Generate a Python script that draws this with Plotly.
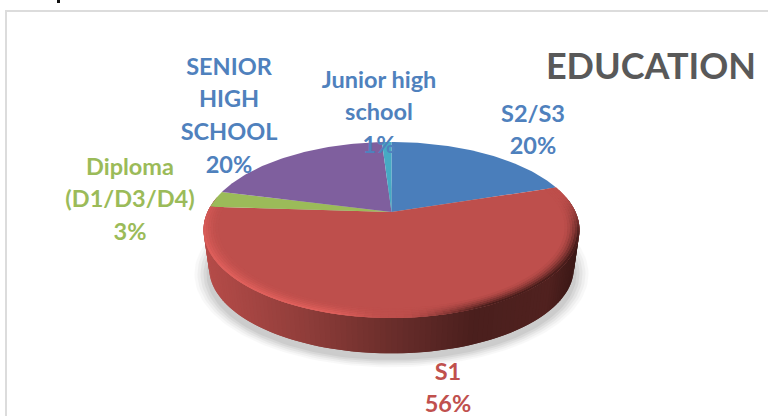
import numpy as np
import plotly.graph_objects as go

# Education breakdown (percent of respondents), clockwise from twelve o'clock
categories = ["S2/S3", "S1", "Diploma (D1/D3/D4)", "SENIOR HIGH SCHOOL", "Junior high school"]
values = [20, 56, 3, 20, 1]
slice_colors = ["#4a7ebb", "#be4f4c", "#9bbb59", "#7f5f9e", "#46aac4"]
label_colors = ["#4f81bd", "#c0504d", "#9bbb59", "#4f81bd", "#4f81bd"]
label_lines = [["S2/S3"], ["S1"], ["Diploma", "(D1/D3/D4)"], ["SENIOR", "HIGH", "SCHOOL"], ["Junior high", "school"]]
label_x = [533, 448, 130, 229, 379]
label_top = [116, 374, 169, 69, 82]
title_text = "EDUCATION"

# Pie projection, in page pixels
CX, CY, RX, RY = 391.5, 230.0, 188.0, 88.0
TILT = 0.2045
DEPTH = 38.0
BOTTOM_SCALE = 0.97
LINE_STEP = 32.6


def project(theta, radius=1.0, drop=0.0, scale=1.0):
    """Map a clockwise angle on the pie disc to page pixels with perspective."""
    u = radius * np.sin(theta)
    v = radius * np.cos(theta)
    den = 1 + TILT * v
    a = u * np.sqrt(1 - TILT ** 2) / den
    b = (v + TILT) / den
    return CX + RX * scale * a, CY - RY * scale * b + drop


def mix(c1, c2, t):
    t = float(np.clip(t, 0, 1))
    return "#%02x%02x%02x" % tuple(int(round(p + (q - p) * t)) for p, q in zip(c1, c2))


def smooth(a, b, x):
    t = np.clip((x - a) / (b - a), 0, 1)
    return t * t * (3 - 2 * t)


def wall_color(x):
    """Side wall shading: lit at the left, falling to deep maroon on the right."""
    t = (x - (CX - RX)) / (2 * RX)
    stops = [(0.0, (182, 76, 73)), (0.25, (146, 62, 59)), (0.5, (106, 45, 43)),
             (0.72, (74, 31, 29)), (0.92, (80, 33, 31)), (1.0, (58, 24, 22))]
    for (t0, c0), (t1, c1) in zip(stops, stops[1:]):
        if t <= t1:
            return mix(c0, c1, (t - t0) / (t1 - t0))
    return mix(stops[-1][1], stops[-1][1], 0)


fig = go.Figure()


def polygon(xs, ys, color, opacity=1.0):
    fig.add_trace(go.Scatter(
        x=list(xs), y=list(ys), mode="lines", fill="toself", fillcolor=color,
        opacity=opacity, hoverinfo="skip", showlegend=False,
        line=dict(color=color, width=0),
    ))


# Soft ground shadow under the pie
ring = np.linspace(0, 2 * np.pi, 181)
for grow, alpha in [(12, 0.07), (9, 0.10), (6, 0.14), (3, 0.18), (0, 0.24)]:
    sx = CX + (RX - 3 + grow) * np.cos(ring)
    sy = CY + DEPTH + 6 + (RY - 2 + grow * 0.6) * np.sin(ring)
    polygon(sx, sy, "#a8a8a8", opacity=alpha)

# Side wall: strips overlap their right-hand neighbour so no seams show
edges = np.linspace(np.pi / 2 - 0.18, 3 * np.pi / 2 + 0.18, 141)
for k in range(len(edges) - 1):
    t0 = edges[k]
    t1 = edges[min(k + 2, len(edges) - 1)]
    x0, y0 = project(t0)
    x1, y1 = project(t1)
    x2, y2 = project(t1, drop=DEPTH, scale=BOTTOM_SCALE)
    x3, y3 = project(t0, drop=DEPTH, scale=BOTTOM_SCALE)
    color = wall_color((x0 + project(edges[k + 1])[0]) / 2)
    polygon([x0, x1, x2, x3, x0], [y0, y1, y2, y3, y0], color)

# Top face slices, from the shares
bounds = np.cumsum([0] + values) / sum(values) * 2 * np.pi
for start, end, color in zip(bounds[:-1], bounds[1:], slice_colors):
    arc = np.linspace(start, end, max(int((end - start) * 60), 4))
    ax, ay = project(arc)
    ox, oy = project(0.0, radius=0.0)
    polygon(np.r_[ox, ax, ox], np.r_[oy, ay, oy], color)

# Soft bevel along the rim of the largest slice: light on the left, dark on the right
base = (190, 79, 76)
light = (224, 96, 92)
dark = (74, 30, 28)
rim_edges = np.linspace(bounds[1], bounds[2], 101)
rim_radii = np.linspace(1.0, 0.925, 7)
for j, (r_out, r_in) in enumerate(zip(rim_radii[:-1], rim_radii[1:])):
    falloff = (1 - j / 6) ** 1.6
    for k in range(len(rim_edges) - 1):
        t0 = rim_edges[k]
        t1 = rim_edges[min(k + 2, len(rim_edges) - 1)]
        mid = (rim_edges[k] + rim_edges[k + 1]) / 2
        side = (project(mid)[0] - (CX - RX)) / (2 * RX)
        if mid > np.pi:
            # Left half: strongest toward the lower left of the front
            lit = smooth(0.50, 0.68, 1 - side) * (0.45 + 0.55 * smooth(-0.3, 0.7, -np.cos(mid)))
            color = mix(base, light, lit * falloff)
        else:
            # Right half: darkening grows toward the right rim
            shade = smooth(0.52, 0.80, side) * smooth(np.radians(76), np.radians(112), mid)
            color = mix(base, dark, shade * falloff * 1.05)
        xa, ya = project(t0, radius=r_out)
        xb, yb = project(t1, radius=r_out)
        xc, yc = project(t1, radius=r_in)
        xd, yd = project(t0, radius=r_in)
        polygon([xa, xb, xc, xd, xa], [ya, yb, yc, yd, ya], color)

# Labels: each line is its own text point so the leading stays tight
for lines, value, x, top, color in zip(label_lines, values, label_x, label_top, label_colors):
    rows = lines + [f"{value}%"]
    fig.add_trace(go.Scatter(
        x=[x] * len(rows), y=[top + i * LINE_STEP for i in range(len(rows))],
        text=[f"<b>{row}</b>" for row in rows], mode="text", textposition="middle center",
        textfont=dict(family="Lato", size=23.5, color=color),
        hoverinfo="skip", showlegend=False, cliponaxis=False,
    ))

fig.add_trace(go.Scatter(
    x=[651], y=[70], text=[f"<b>{title_text}</b>"], mode="text", textposition="middle center",
    textfont=dict(family="Lato", size=36, color="#595959"),
    hoverinfo="skip", showlegend=False, cliponaxis=False,
))

# Frame around the chart area, and the descender poking in from the text above it
fig.add_shape(type="path", path="M 6 416 L 6 11 L 768 11", line=dict(color="#dcdcdc", width=2), layer="below")
fig.add_shape(type="line", x0=58.5, x1=58.5, y0=0, y1=3, line=dict(color="#111111", width=3))

fig.update_layout(
    width=768, height=416, margin=dict(l=0, r=0, t=0, b=0),
    paper_bgcolor="white", plot_bgcolor="white", showlegend=False,
    xaxis=dict(range=[0, 768], visible=False, fixedrange=True),
    yaxis=dict(range=[416, 0], visible=False, fixedrange=True),
)
fig.write_html("out.html", config={"displayModeBar": False})
